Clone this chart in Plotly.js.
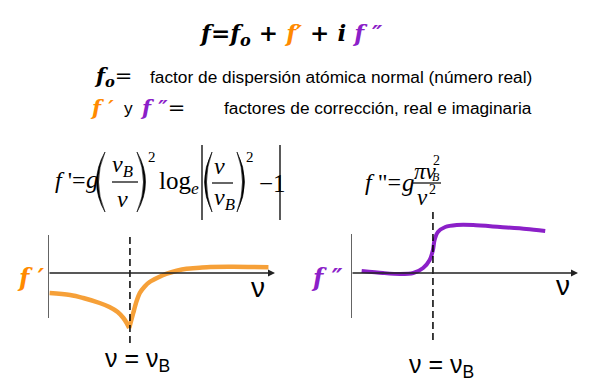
<!DOCTYPE html>
<html><head><meta charset="utf-8">
<script src="https://cdn.plot.ly/plotly-3.0.1.min.js"></script>
<style>html,body{margin:0;padding:0;background:#fff}</style>
</head><body><div id="chart" style="width:600px;height:392px"></div>
<script>
// f' (real correction) versus ν (ν_B = 1), split at the cusp
const nuReal1 = [0.02, 0.27, 0.43, 0.63, 0.75, 0.85, 0.92, 0.96, 0.991];
const fReal1  = [-2.0, -2.2, -2.5, -3.0, -3.4, -3.9, -4.5, -5.0, -5.5];
const nuReal2 = [0.991, 1.04, 1.08, 1.12, 1.18, 1.24, 1.33, 1.45, 1.57, 1.69, 1.85, 1.98, 2.26, 2.69];
const fReal2  = [-5.5, -4.0, -2.84, -2.0, -1.34, -0.9, -0.5, -0.07, 0.23, 0.43, 0.53, 0.6, 0.62, 0.57];
// f'' (imaginary correction) versus ν
const nuImag = [0.13, 0.39, 0.60, 0.76, 0.88, 0.96, 1.00, 1.02, 1.06, 1.15, 1.29, 1.49, 1.82, 2.14, 2.37];
const fImag  = [0.2, 0.0, -0.1, 0.0, 0.5, 1.3, 2.3, 3.3, 4.1, 4.6, 4.8, 4.8, 4.6, 4.4, 4.2];
const nuB = 1;
const nuMax = 2.77;

const ORANGE_LINE = '#F6A038';
const ORANGE_TXT = '#FF8A00';
const PURPLE = '#8B20C8';
const SERIF = 'Liberation Serif, Times New Roman, serif';
const SERIF_BI = 'DejaVu Serif, Liberation Serif, serif';
const SANS = 'Liberation Sans, Arial, sans-serif';

const X = p => p / 600, Y = p => 1 - p / 392;

function T(text, x, y, size, o) {
  o = o || {};
  return {xref:'paper', yref:'paper', x:X(x), y:Y(y), text:text, showarrow:false,
    xanchor:o.xa || 'left', yanchor:'middle',
    font:{family:o.fam || SERIF, size:size, color:o.color || '#000'}};
}
function paren(x0, x1, y0, y1, left) {
  const ym = (y0 + y1) / 2;
  let a, b, c;
  if (left) { a = x1; b = 2*x0 - x1 - 1; c = 2*x0 - x1 + 3; }
  else { a = x0; b = 2*x1 - x0 + 1; c = 2*x1 - x0 - 3; }
  const path = `M ${X(a)},${Y(y0)} Q ${X(b)},${Y(ym)} ${X(a)},${Y(y1)} Q ${X(c)},${Y(ym)} ${X(a)},${Y(y0)} Z`;
  return {type:'path', xref:'paper', yref:'paper', path:path, fillcolor:'#000', line:{color:'#000', width:0.6}};
}
function hline(x0, x1, y, w) {
  return {type:'line', xref:'paper', yref:'paper', x0:X(x0), x1:X(x1), y0:Y(y), y1:Y(y), line:{color:'#000', width:w || 1.2}};
}
function vline(x, y0, y1, w) {
  return {type:'line', xref:'paper', yref:'paper', x0:X(x), x1:X(x), y0:Y(y0), y1:Y(y1), line:{color:'#000', width:w || 1.5}};
}

const traces = [
  {x:nuReal1, y:fReal1, xaxis:'x', yaxis:'y', mode:'lines', line:{color:ORANGE_LINE, width:4.5, shape:'spline', smoothing:1}, hoverinfo:'skip'},
  {x:nuReal2, y:fReal2, xaxis:'x', yaxis:'y', mode:'lines', line:{color:ORANGE_LINE, width:4.5, shape:'spline', smoothing:0.8}, hoverinfo:'skip'},
  {x:nuImag, y:fImag, xaxis:'x2', yaxis:'y2', mode:'lines', line:{color:PURPLE, width:4, shape:'spline', smoothing:0.8}, hoverinfo:'skip'}
];

const ydom = [1 - 350/392, 1 - 205/392];
const yr = [-7.7, 6.8];
const axisLine = {color:'#222', width:1.4};
const dash = {color:'#000', width:1.5, dash:'7px,4px'};

const shapes = [
  {type:'line', xref:'x', yref:'y', x0:0, x1:0, y0:3.8, y1:-4.5, line:axisLine},
  {type:'line', xref:'x', yref:'y', x0:nuB, x1:nuB, y0:3.6, y1:-7.2, line:dash},
  {type:'line', xref:'x2', yref:'y2', x0:0, x1:0, y0:3.9, y1:-4.5, line:axisLine},
  {type:'line', xref:'x2', yref:'y2', x0:nuB, x1:nuB, y0:6.1, y1:-7.0, line:dash},
  // f' formula
  paren(97, 105, 152, 212, true), paren(137, 145, 152, 212, false),
  hline(112, 138, 182),
  vline(202, 145, 220, 1.3),
  paren(205, 212, 152, 212, true), paren(237, 244, 152, 212, false),
  hline(212, 233, 183),
  vline(280, 145, 220, 1.3),
  // f'' formula
  hline(413, 441, 183)
];

const ann = [
  {xref:'x', yref:'y', axref:'x', ayref:'y', x:nuMax, y:0, ax:0, ay:0, text:'', showarrow:true, arrowhead:2, arrowsize:1, arrowwidth:1.4, arrowcolor:'#222'},
  {xref:'x2', yref:'y2', axref:'x2', ayref:'y2', x:nuMax, y:0, ax:0, ay:0, text:'', showarrow:true, arrowhead:2, arrowsize:1, arrowwidth:1.4, arrowcolor:'#222'},
  // title formula
  T(`<b><i>f</i>=<i>f<sub>o</sub></i> + <span style="color:${ORANGE_TXT}"><i>f′</i></span> + <i>i</i> <span style="color:${PURPLE}"><i>f ″</i></span></b>`, 291, 34, 23, {xa:'center', fam:SERIF_BI}),
  // description lines
  T(`<b><i>f<sub>o</sub></i></b>=`, 92, 77, 21, {fam:SERIF_BI}),
  T('factor de dispersión atómica normal (número real)', 148, 77, 17.3, {fam:SANS}),
  T(`<b><i>f ′</i></b>`, 88, 108, 21, {color:ORANGE_TXT, fam:SERIF_BI}),
  T('y', 122, 108, 17.3, {fam:SANS}),
  T(`<b><i><span style="color:${PURPLE}">f ″</span></i></b>=`, 138, 108, 21, {fam:SERIF_BI}),
  T('factores de corrección, real e imaginaria', 222, 108, 17.3, {fam:SANS}),
  // f' formula
  T(`<i>f</i> '=`, 53, 180, 24),
  T(`<i>g</i>`, 84, 180, 25),
  T(`<i>ν<sub>B</sub></i>`, 123, 166, 24, {xa:'center'}),
  T(`<i>ν</i>`, 122, 199, 24, {xa:'center'}),
  T('2', 152, 157, 15, {xa:'center'}),
  T(`log<sub><i>e</i></sub>`, 157, 182, 25),
  T(`<i>ν</i>`, 219, 166, 24, {xa:'center'}),
  T(`<i>ν<sub>B</sub></i>`, 224, 199, 24, {xa:'center'}),
  T('2', 250, 157, 15, {xa:'center'}),
  T('−1', 257, 183, 25),
  // f'' formula
  T(`<i>f</i> "=`, 363, 182, 24),
  T(`<i>g</i>`, 400, 182, 25),
  T(`<i>πν</i>`, 412, 172, 23),
  T('2', 436, 160, 14, {xa:'center'}),
  T('<i>B</i>', 436, 177, 12, {xa:'center'}),
  T(`<i>ν</i>`, 422, 197, 23, {xa:'center'}),
  T('2', 432, 189, 14, {xa:'center'}),
  // axis labels
  T(`<b><i>f ′</i></b>`, 15, 277, 24, {color:ORANGE_TXT, fam:SERIF_BI}),
  T(`<b><i>f ″</i></b>`, 309, 277, 24, {color:PURPLE, fam:SERIF_BI}),
  T('ν', 258, 287, 28, {fam:SANS, xa:'center'}),
  T('ν', 563, 285, 28, {fam:SANS, xa:'center'}),
  T('ν = ν<sub>B</sub>', 137, 360, 25, {fam:SANS, xa:'center'}),
  T('ν = ν<sub>B</sub>', 441, 366, 25, {fam:SANS, xa:'center'})
];

const hidden = {visible:false, fixedrange:true};
const layout = {
  width:600, height:392, margin:{l:0, r:0, t:0, b:0},
  paper_bgcolor:'#fff', plot_bgcolor:'rgba(0,0,0,0)', showlegend:false,
  xaxis:Object.assign({domain:[48/600, 275/600], range:[0, nuMax]}, hidden),
  yaxis:Object.assign({domain:ydom, range:yr}, hidden),
  xaxis2:Object.assign({domain:[351/600, 578/600], range:[0, nuMax], anchor:'y2'}, hidden),
  yaxis2:Object.assign({domain:ydom, range:yr, anchor:'x2'}, hidden),
  shapes:shapes, annotations:ann
};
Plotly.newPlot('chart', traces, layout, {staticPlot:true, displayModeBar:false});
</script></body></html>
